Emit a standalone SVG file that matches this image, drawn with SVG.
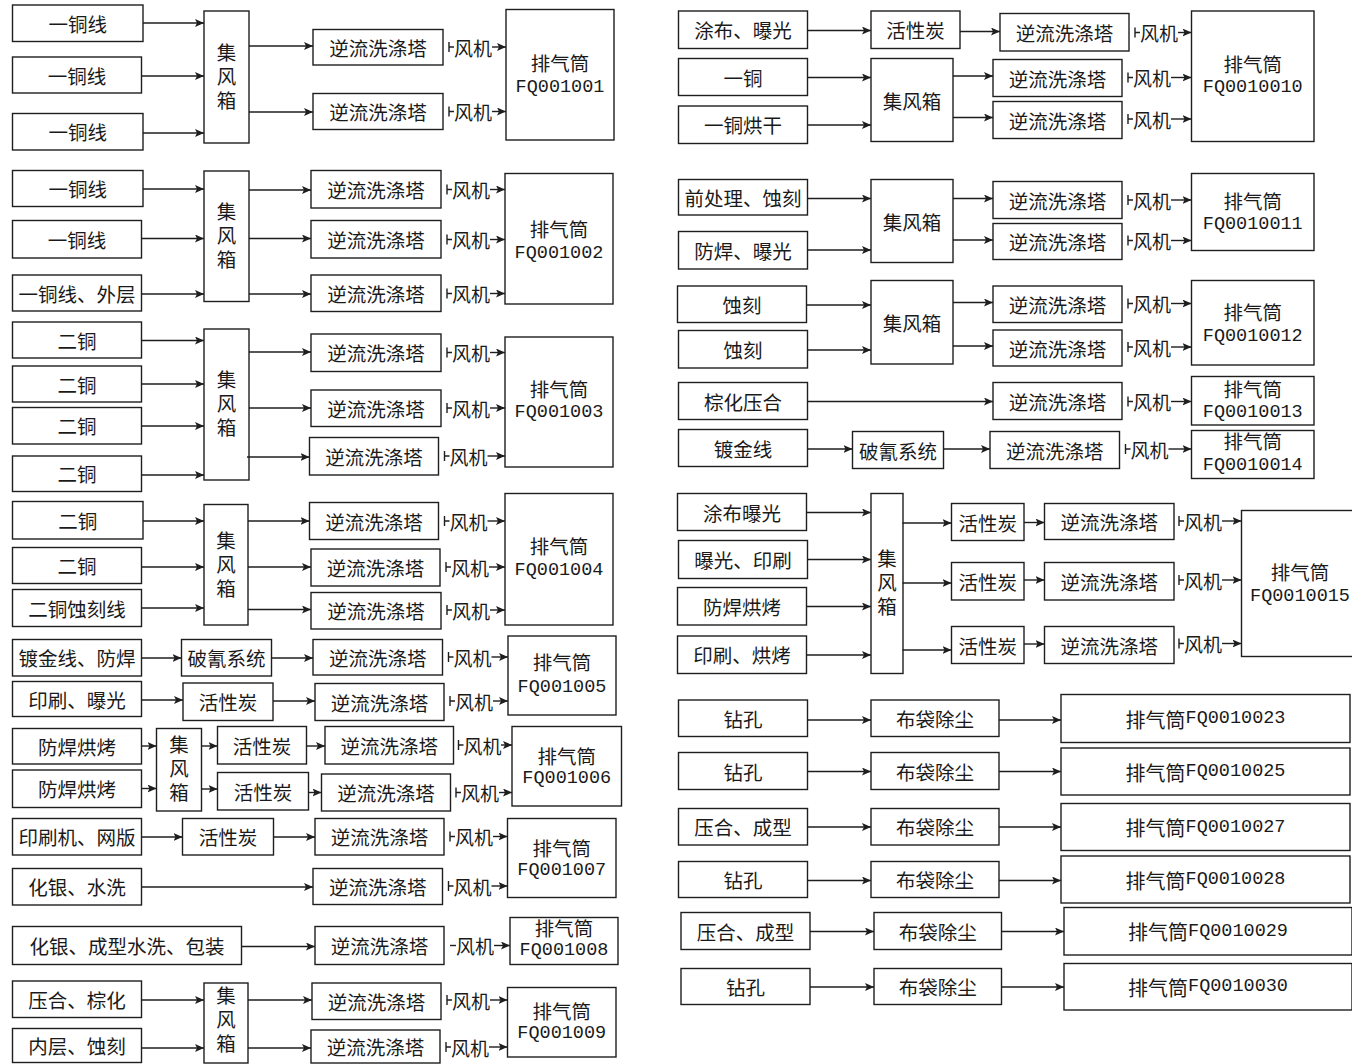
<svg xmlns="http://www.w3.org/2000/svg" width="1352" height="1064" viewBox="0 0 1352 1064">
<style>
.b{fill:#fff;stroke:#1e1e1e;stroke-width:1.4}
.t{font-family:"Noto Sans CJK SC","Noto Sans CJK JP",sans-serif;font-size:19.5px;fill:#1a1a1a;text-anchor:middle;dominant-baseline:central}
.v{writing-mode:vertical-rl;letter-spacing:4.5px}
.m{font-family:"Liberation Mono","Noto Sans CJK SC",monospace;font-size:18.5px;fill:#1a1a1a;text-anchor:middle;dominant-baseline:central}
.cj{font-family:"Noto Sans CJK SC",sans-serif;font-size:20px}
.fan{font-family:"Noto Sans CJK SC",sans-serif;font-size:19px;fill:#1a1a1a;dominant-baseline:central}
.c{fill:none;stroke:#1e1e1e;stroke-width:1.4;marker-end:url(#ah)}
.k{fill:none;stroke:#1e1e1e;stroke-width:1.4}
</style>
<defs>
<marker id="ah" markerUnits="userSpaceOnUse" markerWidth="10" markerHeight="8" refX="9" refY="4" orient="auto"><path d="M0,0 L9,4 L0,8 L2,4 Z" fill="#1e1e1e"/></marker>
</defs>
<rect width="1352" height="1064" fill="#fff"/>

<!-- ===== LEFT COLUMN ===== -->
<!-- G1 -->
<g id="n1a"><rect class="b" x="12.5" y="5" width="130.5" height="36.5"/><text class="t" x="77.75" y="23.25">一铜线</text></g>
<g id="n1b"><rect class="b" x="12.5" y="57" width="129" height="36"/><text class="t" x="77" y="75">一铜线</text></g>
<g id="n1c"><rect class="b" x="12.5" y="113.5" width="130.5" height="36.5"/><text class="t" x="77.75" y="131.75">一铜线</text></g>
<g id="h1"><rect class="b" x="204" y="11" width="45" height="132"/><text class="t v" x="226.5" y="79">集风箱</text></g>
<g id="s1a"><rect class="b" x="313" y="29.5" width="130" height="35.5"/><text class="t" x="378" y="47.25">逆流洗涤塔</text></g>
<g id="s1b"><rect class="b" x="313" y="93.5" width="130" height="36"/><text class="t" x="378" y="111.5">逆流洗涤塔</text></g>
<g id="f1"><rect class="b" x="506" y="9.5" width="108" height="130.5"/><text class="t" x="560" y="62">排气筒</text><text class="m" x="560" y="87">FQ001001</text></g>

<!-- G2 -->
<g id="n2a"><rect class="b" x="12.5" y="170.5" width="130.5" height="36"/><text class="t" x="77.75" y="188.5">一铜线</text></g>
<g id="n2b"><rect class="b" x="12.5" y="220.5" width="129" height="37.5"/><text class="t" x="77" y="239.25">一铜线</text></g>
<g id="n2c"><rect class="b" x="12.5" y="275" width="129" height="36"/><text class="t" x="77" y="293">一铜线、外层</text></g>
<g id="h2"><rect class="b" x="204" y="171" width="45" height="130.5"/><text class="t v" x="226.5" y="238">集风箱</text></g>
<g id="s2a"><rect class="b" x="311" y="170.5" width="130" height="37.5"/><text class="t" x="376" y="189.25">逆流洗涤塔</text></g>
<g id="s2b"><rect class="b" x="311" y="220.5" width="130" height="37.5"/><text class="t" x="376" y="239.25">逆流洗涤塔</text></g>
<g id="s2c"><rect class="b" x="311" y="275" width="130" height="36.5"/><text class="t" x="376" y="293.25">逆流洗涤塔</text></g>
<g id="f2"><rect class="b" x="505" y="173.5" width="108" height="130.5"/><text class="t" x="559" y="228">排气筒</text><text class="m" x="559" y="253">FQ001002</text></g>

<!-- G3 -->
<g id="n3a"><rect class="b" x="12.5" y="322" width="129" height="36"/><text class="t" x="77" y="340">二铜</text></g>
<g id="n3b"><rect class="b" x="12.5" y="366" width="129" height="36"/><text class="t" x="77" y="384">二铜</text></g>
<g id="n3c"><rect class="b" x="12.5" y="407.5" width="129" height="36.5"/><text class="t" x="77" y="425.75">二铜</text></g>
<g id="n3d"><rect class="b" x="12.5" y="456" width="129" height="35.5"/><text class="t" x="77" y="473.75">二铜</text></g>
<g id="h3"><rect class="b" x="204" y="329" width="45" height="151"/><text class="t v" x="226.5" y="406">集风箱</text></g>
<g id="s3a"><rect class="b" x="311" y="334" width="130" height="37.5"/><text class="t" x="376" y="352.75">逆流洗涤塔</text></g>
<g id="s3b"><rect class="b" x="311" y="390" width="130" height="36.5"/><text class="t" x="376" y="408.25">逆流洗涤塔</text></g>
<g id="s3c"><rect class="b" x="309.5" y="437.5" width="129" height="37.5"/><text class="t" x="374" y="456.25">逆流洗涤塔</text></g>
<g id="f3"><rect class="b" x="505" y="337" width="108" height="130"/><text class="t" x="559" y="388">排气筒</text><text class="m" x="559" y="412">FQ001003</text></g>

<!-- G4 -->
<g id="n4a"><rect class="b" x="12.5" y="501.5" width="130.5" height="37.5"/><text class="t" x="77.75" y="520.25">二铜</text></g>
<g id="n4b"><rect class="b" x="12.5" y="547.5" width="129" height="36"/><text class="t" x="77" y="565.5">二铜</text></g>
<g id="n4c"><rect class="b" x="12.5" y="589.5" width="129" height="37"/><text class="t" x="77" y="608">二铜蚀刻线</text></g>
<g id="h4"><rect class="b" x="204" y="504.5" width="44" height="120.5"/><text class="t v" x="226" y="567">集风箱</text></g>
<g id="s4a"><rect class="b" x="309.5" y="502.5" width="129" height="37"/><text class="t" x="374" y="521">逆流洗涤塔</text></g>
<g id="s4b"><rect class="b" x="311" y="549" width="129" height="37"/><text class="t" x="375.5" y="567.5">逆流洗涤塔</text></g>
<g id="s4c"><rect class="b" x="311" y="592.5" width="130" height="36.5"/><text class="t" x="376" y="610.75">逆流洗涤塔</text></g>
<g id="f4"><rect class="b" x="505" y="493.5" width="108" height="131.5"/><text class="t" x="559" y="545">排气筒</text><text class="m" x="559" y="570">FQ001004</text></g>

<!-- G5 -->
<g id="n5a"><rect class="b" x="12.5" y="639.5" width="129" height="36.5"/><text class="t" x="77" y="657.75">镀金线、防焊</text></g>
<g id="p5"><rect class="b" x="181.5" y="639.5" width="90" height="36.5"/><text class="t" x="226.5" y="657.75">破氰系统</text></g>
<g id="s5a"><rect class="b" x="313" y="639.5" width="129.5" height="35.5"/><text class="t" x="377.75" y="657.25">逆流洗涤塔</text></g>
<g id="n5b"><rect class="b" x="12.5" y="681.5" width="129" height="35"/><text class="t" x="77" y="699">印刷、曝光</text></g>
<g id="c5"><rect class="b" x="183" y="683" width="90" height="37.5"/><text class="t" x="228" y="701.75">活性炭</text></g>
<g id="s5b"><rect class="b" x="315" y="683.5" width="129" height="37"/><text class="t" x="379.5" y="702">逆流洗涤塔</text></g>
<g id="f5"><rect class="b" x="508" y="636" width="108" height="79"/><text class="t" x="562" y="661">排气筒</text><text class="m" x="562" y="687">FQ001005</text></g>

<!-- G6 -->
<g id="n6a"><rect class="b" x="12.5" y="728.5" width="129" height="35.5"/><text class="t" x="77" y="746.25">防焊烘烤</text></g>
<g id="n6b"><rect class="b" x="12.5" y="770" width="129" height="37.5"/><text class="t" x="77" y="788.75">防焊烘烤</text></g>
<g id="h6"><rect class="b" x="156.5" y="728.5" width="45" height="82.5"/><text class="t v" x="179" y="771">集风箱</text></g>
<g id="c6a"><rect class="b" x="217.5" y="726.5" width="89" height="37.5"/><text class="t" x="262" y="745.25">活性炭</text></g>
<g id="c6b"><rect class="b" x="217.5" y="772.5" width="91" height="37.5"/><text class="t" x="263" y="791.25">活性炭</text></g>
<g id="s6a"><rect class="b" x="325" y="726.5" width="128.5" height="37.5"/><text class="t" x="389.25" y="745.25">逆流洗涤塔</text></g>
<g id="s6b"><rect class="b" x="321.5" y="774" width="129" height="37"/><text class="t" x="386" y="792.5">逆流洗涤塔</text></g>
<g id="f6"><rect class="b" x="512" y="726.5" width="109.5" height="79.5"/><text class="t" x="566.75" y="755">排气筒</text><text class="m" x="566.75" y="778">FQ001006</text></g>

<!-- G7 -->
<g id="n7a"><rect class="b" x="12.5" y="818.5" width="129" height="36.5"/><text class="t" x="77" y="836.75">印刷机、网版</text></g>
<g id="c7"><rect class="b" x="182.5" y="818.5" width="91" height="36.5"/><text class="t" x="228" y="836.75">活性炭</text></g>
<g id="s7a"><rect class="b" x="315" y="818.5" width="129" height="36.5"/><text class="t" x="379.5" y="836.75">逆流洗涤塔</text></g>
<g id="n7b"><rect class="b" x="12.5" y="868.5" width="129" height="36.5"/><text class="t" x="77" y="886.75">化银、水洗</text></g>
<g id="s7b"><rect class="b" x="313" y="868.5" width="129.5" height="36"/><text class="t" x="377.75" y="886.5">逆流洗涤塔</text></g>
<g id="f7"><rect class="b" x="507.5" y="818.5" width="108.5" height="79"/><text class="t" x="561.75" y="847">排气筒</text><text class="m" x="561.75" y="870">FQ001007</text></g>

<!-- G8 -->
<g id="n8"><rect class="b" x="12.5" y="926.5" width="229" height="38"/><text class="t" x="127" y="945.5">化银、成型水洗、包装</text></g>
<g id="s8"><rect class="b" x="315" y="926.5" width="129" height="38"/><text class="t" x="379.5" y="945.5">逆流洗涤塔</text></g>
<g id="f8"><rect class="b" x="510" y="917.5" width="108" height="47"/><text class="t" x="564" y="927">排气筒</text><text class="m" x="564" y="950">FQ001008</text></g>

<!-- G9 -->
<g id="n9a"><rect class="b" x="12.5" y="981" width="129" height="36.5"/><text class="t" x="77" y="999.25">压合、棕化</text></g>
<g id="n9b"><rect class="b" x="12.5" y="1028.5" width="129" height="34"/><text class="t" x="77" y="1045.5">内层、蚀刻</text></g>
<g id="h9"><rect class="b" x="204" y="983" width="44" height="80"/><text class="t v" x="226" y="1022">集风箱</text></g>
<g id="s9a"><rect class="b" x="312" y="983" width="129" height="36.5"/><text class="t" x="376.5" y="1001.25">逆流洗涤塔</text></g>
<g id="s9b"><rect class="b" x="311" y="1030" width="129" height="33"/><text class="t" x="375.5" y="1046.5">逆流洗涤塔</text></g>
<g id="f9"><rect class="b" x="507.5" y="987.5" width="108.5" height="69.5"/><text class="t" x="561.75" y="1010">排气筒</text><text class="m" x="561.75" y="1033">FQ001009</text></g>

<!-- ===== RIGHT COLUMN ===== -->
<!-- R1 -->
<g id="r1a"><rect class="b" x="678.5" y="11" width="129" height="37.5"/><text class="t" x="743" y="29.75">涂布、曝光</text></g>
<g id="rc1"><rect class="b" x="871" y="11" width="89" height="37.5"/><text class="t" x="915.5" y="29.75">活性炭</text></g>
<g id="rs1a"><rect class="b" x="1000" y="13.5" width="129" height="37.5"/><text class="t" x="1064.5" y="32.25">逆流洗涤塔</text></g>
<g id="r1b"><rect class="b" x="678.5" y="58.5" width="129" height="37"/><text class="t" x="743" y="77">一铜</text></g>
<g id="r1c"><rect class="b" x="678.5" y="106" width="129" height="37.5"/><text class="t" x="743" y="124.75">一铜烘干</text></g>
<g id="rh1"><rect class="b" x="871" y="58.5" width="82" height="83"/><text class="t" x="912" y="100">集风箱</text></g>
<g id="rs1b"><rect class="b" x="993" y="59.5" width="129" height="37"/><text class="t" x="1057.5" y="78">逆流洗涤塔</text></g>
<g id="rs1c"><rect class="b" x="993" y="101.5" width="129" height="37"/><text class="t" x="1057.5" y="120">逆流洗涤塔</text></g>
<g id="rf1"><rect class="b" x="1191.5" y="11" width="122.5" height="130.5"/><text class="t" x="1252.75" y="63">排气筒</text><text class="m" x="1252.75" y="87">FQ0010010</text></g>

<!-- R2 -->
<g id="r2a"><rect class="b" x="678.5" y="179.5" width="129" height="35.5"/><text class="t" x="743" y="197.25">前处理、蚀刻</text></g>
<g id="r2b"><rect class="b" x="678.5" y="231.5" width="129" height="37.5"/><text class="t" x="743" y="250.25">防焊、曝光</text></g>
<g id="rh2"><rect class="b" x="871" y="179.5" width="82" height="83"/><text class="t" x="912" y="221">集风箱</text></g>
<g id="rs2a"><rect class="b" x="993" y="181.5" width="129" height="37"/><text class="t" x="1057.5" y="200">逆流洗涤塔</text></g>
<g id="rs2b"><rect class="b" x="993" y="223.5" width="129" height="36"/><text class="t" x="1057.5" y="241.5">逆流洗涤塔</text></g>
<g id="rf2"><rect class="b" x="1191.5" y="173.5" width="122.5" height="77"/><text class="t" x="1252.75" y="200">排气筒</text><text class="m" x="1252.75" y="224">FQ0010011</text></g>

<!-- R3 -->
<g id="r3a"><rect class="b" x="677.5" y="286" width="129" height="36.5"/><text class="t" x="742" y="304.25">蚀刻</text></g>
<g id="r3b"><rect class="b" x="678.5" y="330.5" width="129" height="37.5"/><text class="t" x="743" y="349.25">蚀刻</text></g>
<g id="rh3"><rect class="b" x="871" y="280.5" width="82" height="83.5"/><text class="t" x="912" y="322">集风箱</text></g>
<g id="rs3a"><rect class="b" x="993" y="286" width="129" height="36.5"/><text class="t" x="1057.5" y="304.25">逆流洗涤塔</text></g>
<g id="rs3b"><rect class="b" x="993" y="330" width="129" height="36"/><text class="t" x="1057.5" y="348">逆流洗涤塔</text></g>
<g id="rf3"><rect class="b" x="1191.5" y="280.5" width="122.5" height="84.5"/><text class="t" x="1252.75" y="311.5">排气筒</text><text class="m" x="1252.75" y="336.5">FQ0010012</text></g>

<!-- R4 -->
<g id="r4"><rect class="b" x="678.5" y="382.5" width="129" height="37"/><text class="t" x="743" y="401">棕化压合</text></g>
<g id="rs4"><rect class="b" x="993" y="382.5" width="129" height="37"/><text class="t" x="1057.5" y="401">逆流洗涤塔</text></g>
<g id="rf4"><rect class="b" x="1191.5" y="376.5" width="122.5" height="48.5"/><text class="t" x="1252.75" y="388">排气筒</text><text class="m" x="1252.75" y="412">FQ0010013</text></g>

<!-- R5 -->
<g id="r5"><rect class="b" x="678.5" y="429.5" width="129" height="37"/><text class="t" x="743" y="448">镀金线</text></g>
<g id="rp5"><rect class="b" x="852.5" y="431.5" width="91" height="37"/><text class="t" x="898" y="450">破氰系统</text></g>
<g id="rs5"><rect class="b" x="990" y="431.5" width="129.5" height="37"/><text class="t" x="1054.75" y="450">逆流洗涤塔</text></g>
<g id="rf5"><rect class="b" x="1191.5" y="430.5" width="122.5" height="48"/><text class="t" x="1252.75" y="440">排气筒</text><text class="m" x="1252.75" y="465">FQ0010014</text></g>

<!-- R6 -->
<g id="r6a"><rect class="b" x="677.5" y="493.5" width="129" height="37"/><text class="t" x="742" y="512">涂布曝光</text></g>
<g id="r6b"><rect class="b" x="678.5" y="540.5" width="129" height="38"/><text class="t" x="743" y="559.5">曝光、印刷</text></g>
<g id="r6c"><rect class="b" x="677.5" y="587.5" width="129" height="37.5"/><text class="t" x="742" y="606.25">防焊烘烤</text></g>
<g id="r6d"><rect class="b" x="677.5" y="636" width="129" height="37.5"/><text class="t" x="742" y="654.75">印刷、烘烤</text></g>
<g id="rh6"><rect class="b" x="871" y="493.5" width="32" height="180"/><text class="t v" x="887" y="584.5">集风箱</text></g>
<g id="rc6a"><rect class="b" x="951.5" y="503.5" width="72.5" height="37"/><text class="t" x="987.75" y="522">活性炭</text></g>
<g id="rc6b"><rect class="b" x="951.5" y="562.5" width="72.5" height="37.5"/><text class="t" x="987.75" y="581.25">活性炭</text></g>
<g id="rc6c"><rect class="b" x="951.5" y="626.5" width="72.5" height="37"/><text class="t" x="987.75" y="645">活性炭</text></g>
<g id="rs6a"><rect class="b" x="1044.5" y="503.5" width="129.5" height="36"/><text class="t" x="1109.25" y="521.5">逆流洗涤塔</text></g>
<g id="rs6b"><rect class="b" x="1044.5" y="562.5" width="129.5" height="37.5"/><text class="t" x="1109.25" y="581.25">逆流洗涤塔</text></g>
<g id="rs6c"><rect class="b" x="1044.5" y="626.5" width="129.5" height="37"/><text class="t" x="1109.25" y="645">逆流洗涤塔</text></g>
<g id="rf6"><rect class="b" x="1241.5" y="510.5" width="117" height="146"/><text class="t" x="1300" y="571.5">排气筒</text><text class="m" x="1300" y="596.5">FQ0010015</text></g>

<!-- R7 bag filters -->
<g id="d1"><rect class="b" x="678.5" y="700" width="129" height="36.5"/><text class="t" x="743" y="718.25">钻孔</text></g>
<g id="bg1"><rect class="b" x="871" y="700" width="128" height="36.5"/><text class="t" x="935" y="718.25">布袋除尘</text></g>
<g id="fs1"><rect class="b" x="1061" y="694.5" width="289" height="48"/><text class="m" x="1205.5" y="718.5"><tspan class="cj">排气筒</tspan>FQ0010023</text></g>
<g id="d2"><rect class="b" x="678.5" y="752.5" width="129" height="37"/><text class="t" x="743" y="771">钻孔</text></g>
<g id="bg2"><rect class="b" x="871" y="752.5" width="128" height="37"/><text class="t" x="935" y="771">布袋除尘</text></g>
<g id="fs2"><rect class="b" x="1061" y="748" width="289" height="47"/><text class="m" x="1205.5" y="771.5"><tspan class="cj">排气筒</tspan>FQ0010025</text></g>
<g id="d3"><rect class="b" x="678.5" y="808.5" width="129" height="36.5"/><text class="t" x="743" y="826.75">压合、成型</text></g>
<g id="bg3"><rect class="b" x="871" y="808.5" width="128" height="36.5"/><text class="t" x="935" y="826.75">布袋除尘</text></g>
<g id="fs3"><rect class="b" x="1061" y="803.5" width="289" height="47"/><text class="m" x="1205.5" y="827"><tspan class="cj">排气筒</tspan>FQ0010027</text></g>
<g id="d4"><rect class="b" x="678.5" y="861.5" width="129" height="36"/><text class="t" x="743" y="879.5">钻孔</text></g>
<g id="bg4"><rect class="b" x="871" y="861.5" width="128" height="36"/><text class="t" x="935" y="879.5">布袋除尘</text></g>
<g id="fs4"><rect class="b" x="1061" y="856" width="289" height="47"/><text class="m" x="1205.5" y="879.5"><tspan class="cj">排气筒</tspan>FQ0010028</text></g>
<g id="d5"><rect class="b" x="681" y="912.5" width="129" height="37"/><text class="t" x="745.5" y="931">压合、成型</text></g>
<g id="bg5"><rect class="b" x="874" y="912.5" width="127.5" height="37"/><text class="t" x="937.75" y="931">布袋除尘</text></g>
<g id="fs5"><rect class="b" x="1064" y="907.5" width="288" height="47.5"/><text class="m" x="1208" y="931.25"><tspan class="cj">排气筒</tspan>FQ0010029</text></g>
<g id="d6"><rect class="b" x="681" y="968.5" width="129" height="36"/><text class="t" x="745.5" y="986.5">钻孔</text></g>
<g id="bg6"><rect class="b" x="874" y="968.5" width="127.5" height="36"/><text class="t" x="937.75" y="986.5">布袋除尘</text></g>
<g id="fs6"><rect class="b" x="1064" y="963.5" width="288" height="46.5"/><text class="m" x="1208" y="986.75"><tspan class="cj">排气筒</tspan>FQ0010030</text></g>

<!-- ===== CONNECTORS ===== -->
<g id="connectors">
<!-- G1 -->
<path class="c" d="M143,23 H204"/><path class="c" d="M141.5,76 H204"/><path class="c" d="M143,133 H204"/>
<path class="c" d="M249,46 H313"/><path class="c" d="M249,112 H313"/>
<!-- G2 -->
<path class="c" d="M143,189 H204"/><path class="c" d="M141.5,238.5 H204"/><path class="c" d="M141.5,294 H204"/>
<path class="c" d="M249,190 H311"/><path class="c" d="M249,238.5 H311"/><path class="c" d="M249,294 H311"/>
<!-- G3 -->
<path class="c" d="M141.5,340.5 H204"/><path class="c" d="M141.5,384 H204"/><path class="c" d="M141.5,426 H204"/><path class="c" d="M141.5,475 H204"/>
<path class="c" d="M249,352 H311"/><path class="c" d="M249,408 H311"/><path class="c" d="M247,457 H309.5"/>
<!-- G4 -->
<path class="c" d="M143,521 H204"/><path class="c" d="M141.5,567 H204"/><path class="c" d="M141.5,608 H204"/>
<path class="c" d="M248,521 H309.5"/><path class="c" d="M248,567 H311"/><path class="c" d="M248,609.5 H311"/>
<!-- G5 -->
<path class="c" d="M141.5,658 H181.5"/><path class="c" d="M271.5,658 H313"/>
<path class="c" d="M141.5,700 H183"/><path class="c" d="M273,701 H315"/>
<!-- G6 -->
<path class="c" d="M141.5,746 H156.5"/><path class="c" d="M141.5,788.5 H156.5"/>
<path class="c" d="M201.5,746 H217.5"/><path class="c" d="M201.5,789 H217.5"/>
<path class="c" d="M306.5,746 H325"/><path class="c" d="M308.5,792.5 H321.5"/>
<!-- G7 -->
<path class="c" d="M141.5,837 H182.5"/><path class="c" d="M273.5,837 H315"/><path class="c" d="M141.5,887 H313"/>
<!-- G8 -->
<path class="c" d="M241.5,946.5 H315"/>
<!-- G9 -->
<path class="c" d="M141.5,1000 H204"/><path class="c" d="M141.5,1048 H204"/>
<path class="c" d="M248,1000 H312"/><path class="c" d="M248,1048 H311"/>

<!-- Left fans: tick, label, arrow -->
<path class="k" d="M449,42 v10 M449,47 h5"/><text class="fan" x="454" y="47">风机</text><path class="c" d="M492,47 H506"/>
<path class="k" d="M449,106.5 v10 M449,111.5 h5"/><text class="fan" x="454" y="111.5">风机</text><path class="c" d="M492,111.5 H506"/>
<path class="k" d="M447,184.5 v10 M447,189.5 h5"/><text class="fan" x="452" y="189.5">风机</text><path class="c" d="M490,189.5 H505"/>
<path class="k" d="M447,234.5 v10 M447,239.5 h5"/><text class="fan" x="452" y="239.5">风机</text><path class="c" d="M490,239.5 H505"/>
<path class="k" d="M447,288.5 v10 M447,293.5 h5"/><text class="fan" x="452" y="293.5">风机</text><path class="c" d="M490,293.5 H505"/>
<path class="k" d="M447,347.5 v10 M447,352.5 h5"/><text class="fan" x="452" y="352.5">风机</text><path class="c" d="M490,352.5 H505"/>
<path class="k" d="M447,403 v10 M447,408 h5"/><text class="fan" x="452" y="408">风机</text><path class="c" d="M490,408 H505"/>
<path class="k" d="M444.5,451 v10 M444.5,456 h5"/><text class="fan" x="449.5" y="456">风机</text><path class="c" d="M487.5,456 H505"/>
<path class="k" d="M444.5,516 v10 M444.5,521 h5"/><text class="fan" x="449.5" y="521">风机</text><path class="c" d="M487.5,521 H505"/>
<path class="k" d="M446,562 v10 M446,567 h5"/><text class="fan" x="451" y="567">风机</text><path class="c" d="M489,567 H505"/>
<path class="k" d="M447,605 v10 M447,610 h5"/><text class="fan" x="452" y="610">风机</text><path class="c" d="M490,610 H505"/>
<path class="k" d="M448.5,652 v10 M448.5,657 h5"/><text class="fan" x="453.5" y="657">风机</text><path class="c" d="M491.5,657 H508"/>
<path class="k" d="M450,696 v10 M450,701 h5"/><text class="fan" x="455" y="701">风机</text><path class="c" d="M493,701 H508"/>
<path class="k" d="M458.5,740 v10 M458.5,745 h5"/><text class="fan" x="463.5" y="745">风机</text><path class="c" d="M501,745 H512"/>
<path class="k" d="M456,787.5 v10 M456,792.5 h5"/><text class="fan" x="461" y="792.5">风机</text><path class="c" d="M499,792.5 H512"/>
<path class="k" d="M450,831.5 v10 M450,836.5 h5"/><text class="fan" x="455" y="836.5">风机</text><path class="c" d="M493,836.5 H507.5"/>
<path class="k" d="M448.5,881 v10 M448.5,886 h5"/><text class="fan" x="453.5" y="886">风机</text><path class="c" d="M491.5,886 H507.5"/>
<path class="k" d="M450,945.5 h6"/><text class="fan" x="456" y="945.5">风机</text><path class="c" d="M494,945.5 H510"/>
<path class="k" d="M447,995 v10 M447,1000 h5"/><text class="fan" x="452" y="1000">风机</text><path class="c" d="M490,1000 H507.5"/>
<path class="k" d="M446,1042 v10 M446,1047 h5"/><text class="fan" x="451" y="1047">风机</text><path class="c" d="M489,1047 H507.5"/>

<!-- R1 -->
<path class="c" d="M807.5,30.5 H871"/><path class="c" d="M960,31.5 H1000"/>
<path class="c" d="M807.5,77.5 H871"/><path class="c" d="M807.5,125 H871"/>
<path class="c" d="M953,76 H993"/><path class="c" d="M953,117.5 H993"/>
<!-- R2 -->
<path class="c" d="M807.5,198.5 H871"/><path class="c" d="M807.5,250 H871"/>
<path class="c" d="M953,198.5 H993"/><path class="c" d="M953,240 H993"/>
<!-- R3 -->
<path class="c" d="M806.5,305 H871"/><path class="c" d="M807.5,350 H871"/>
<path class="c" d="M953,302.5 H993"/><path class="c" d="M953,346 H993"/>
<!-- R4 -->
<path class="c" d="M807.5,401.5 H993"/>
<!-- R5 -->
<path class="c" d="M807.5,449 H852.5"/><path class="c" d="M943.5,449 H990"/>
<!-- R6 -->
<path class="c" d="M806.5,512.5 H871"/><path class="c" d="M807.5,559.5 H871"/><path class="c" d="M806.5,606.5 H871"/><path class="c" d="M806.5,655 H871"/>
<path class="c" d="M902.5,523 H951.5"/><path class="c" d="M902.5,583 H951.5"/><path class="c" d="M902.5,650 H951.5"/>
<path class="c" d="M1024,522.5 H1044.5"/><path class="c" d="M1024,580 H1044.5"/><path class="c" d="M1024,644 H1044.5"/>
<!-- R7 -->
<path class="c" d="M807.5,720 H871"/><path class="c" d="M999,720 H1061"/>
<path class="c" d="M807.5,771.5 H871"/><path class="c" d="M999,771.5 H1061"/>
<path class="c" d="M807.5,827 H871"/><path class="c" d="M999,827 H1061"/>
<path class="c" d="M807.5,880.5 H871"/><path class="c" d="M999,880.5 H1061"/>
<path class="c" d="M810,931.5 H874"/><path class="c" d="M1001.5,931.5 H1064"/>
<path class="c" d="M810,987 H874"/><path class="c" d="M1001.5,987 H1064"/>

<!-- Right fans -->
<path class="k" d="M1135,27.5 v10 M1135,32.5 h5"/><text class="fan" x="1140" y="32.5">风机</text><path class="c" d="M1178,32.5 H1191.5"/>
<path class="k" d="M1128,72.5 v10 M1128,77.5 h5"/><text class="fan" x="1133" y="77.5">风机</text><path class="c" d="M1171,77.5 H1191.5"/>
<path class="k" d="M1128,114 v10 M1128,119 h5"/><text class="fan" x="1133" y="119">风机</text><path class="c" d="M1171,119 H1191.5"/>
<path class="k" d="M1128,195 v10 M1128,200 h5"/><text class="fan" x="1133" y="200">风机</text><path class="c" d="M1171,200 H1191.5"/>
<path class="k" d="M1128,235.5 v10 M1128,240.5 h5"/><text class="fan" x="1133" y="240.5">风机</text><path class="c" d="M1171,240.5 H1191.5"/>
<path class="k" d="M1128,298.5 v10 M1128,303.5 h5"/><text class="fan" x="1133" y="303.5">风机</text><path class="c" d="M1171,303.5 H1191.5"/>
<path class="k" d="M1128,342 v10 M1128,347 h5"/><text class="fan" x="1133" y="347">风机</text><path class="c" d="M1171,347 H1191.5"/>
<path class="k" d="M1128,396.5 v10 M1128,401.5 h5"/><text class="fan" x="1133" y="401.5">风机</text><path class="c" d="M1171,401.5 H1191.5"/>
<path class="k" d="M1125.5,444 v10 M1125.5,449 h5"/><text class="fan" x="1130.5" y="449">风机</text><path class="c" d="M1168.5,449 H1191.5"/>
<path class="k" d="M1179,516 v10 M1179,521 h5"/><text class="fan" x="1184" y="521">风机</text><path class="c" d="M1222,521 H1241.5"/>
<path class="k" d="M1179,575 v10 M1179,580 h5"/><text class="fan" x="1184" y="580">风机</text><path class="c" d="M1222,580 H1241.5"/>
<path class="k" d="M1179,638.5 v10 M1179,643.5 h5"/><text class="fan" x="1184" y="643.5">风机</text><path class="c" d="M1222,643.5 H1241.5"/>
</g>
</svg>
